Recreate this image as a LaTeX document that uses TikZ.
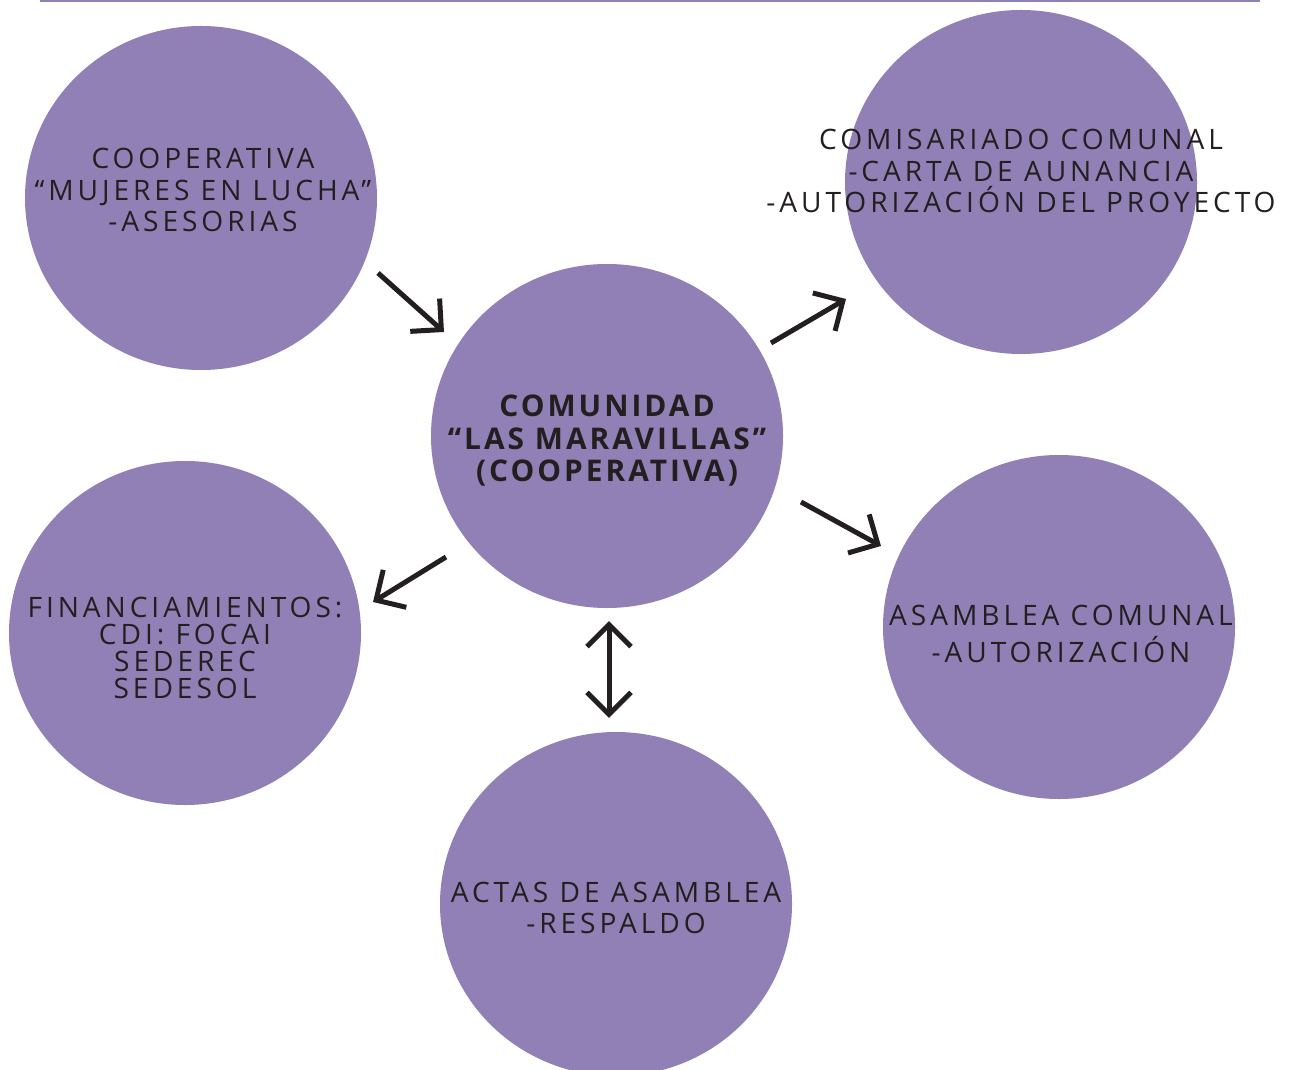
\documentclass[tikz,border=0pt]{standalone}
\usepackage{fontspec}
\setmainfont{Open Sans}
\newfontfamily\spacedfont[LetterSpace=14]{Open Sans}
\newfontfamily\spacedbold[LetterSpace=10]{Open Sans Bold}
\usetikzlibrary{arrows.meta,shapes.geometric}

\definecolor{lilac}{RGB}{145,128,181}
\definecolor{ink}{RGB}{35,31,32}

\begin{document}
\begin{tikzpicture}[
    x=0.2mm, y=-0.2mm,
    bubble/.style={
        ellipse,
        fill=lilac,
        minimum width=70.4mm,
        minimum height=68.8mm,
        inner sep=0pt
    },
    caption/.style={
        align=center,
        text=ink,
        inner sep=0pt,
        font=\fontsize{16}{18}\spacedfont
    },
    boldcaption/.style={
        caption,
        font=\fontsize{17}{18.5}\spacedbold
    },
    arrow/.style={
        -{Straight Barb[length=4.4mm,width=8.8mm]},
        draw=ink,
        line width=1mm
    },
    twoway/.style={
        arrow,
        {Straight Barb[length=4.4mm,width=8.8mm]}-{Straight Barb[length=4.4mm,width=8.8mm]}
    }
]

\useasboundingbox (0,0) rectangle (1291,1070);
\clip (0,0) rectangle (1291,1070);
\draw[lilac, line width=0.6mm] (40,1) -- (1260,1);

% ------------------------------------------------------------------
% Bubbles
% ------------------------------------------------------------------

\node[bubble] (comunidad)       at (607,436) {};
\node[bubble] (cooperativa)     at (201,198) {};
\node[bubble] (comisariado)     at (1021,182) {};
\node[bubble] (financiamientos) at (185,633) {};
\node[bubble] (asamblea)        at (1059,627) {};
\node[bubble] (actas)           at (616,904) {};

% ------------------------------------------------------------------
% Texts
% ------------------------------------------------------------------

\node[boldcaption] (comunidadtxt) at (607,441)
    {COMUNIDAD\\“LAS MARAVILLAS”\\(COOPERATIVA)};

\node[caption] (cooperativatxt) at (203,190)
    {COOPERATIVA\\“MUJERES EN LUCHA”\\-ASESORIAS};

\node[caption] (comisariadotxt) at (1021,171)
    {COMISARIADO COMUNAL\\-CARTA DE AUNANCIA\\-AUTORIZACIÓN DEL PROYECTO};

\node[caption, font=\fontsize{16}{15.5}\spacedfont] (financiamientostxt)
    at (185,648)
    {FINANCIAMIENTOS:\\CDI: FOCAI\\SEDEREC\\SEDESOL};

\node[caption, font=\fontsize{16}{21}\spacedfont] (asambleatxt)
    at (1061,634)
    {ASAMBLEA COMUNAL\\-AUTORIZACIÓN};

\node[caption] (actastxt) at (616,908)
    {ACTAS DE ASAMBLEA\\-RESPALDO};

% ------------------------------------------------------------------
% Arrows
% ------------------------------------------------------------------

\coordinate (cooperativaout) at (378,273);
\coordinate (comunidadin)    at (444,332);
\coordinate (comisariadoout) at (771,343);
\coordinate (comisariadoin)  at (846,299);
\coordinate (asambleaout)    at (801,502);
\coordinate (asambleain)     at (881,546);
\coordinate (financiout)     at (446,557);
\coordinate (financiin)      at (373,602);
\coordinate (actastop)       at (609,621);
\coordinate (actasbottom)    at (609,718);

\draw[arrow] (cooperativaout) -- (comunidadin);
\draw[arrow] (comisariadoout) -- (comisariadoin);
\draw[arrow] (asambleaout) -- (asambleain);
\draw[arrow] (financiout) -- (financiin);
\draw[twoway] (actastop) -- (actasbottom);

\end{tikzpicture}
\end{document}
